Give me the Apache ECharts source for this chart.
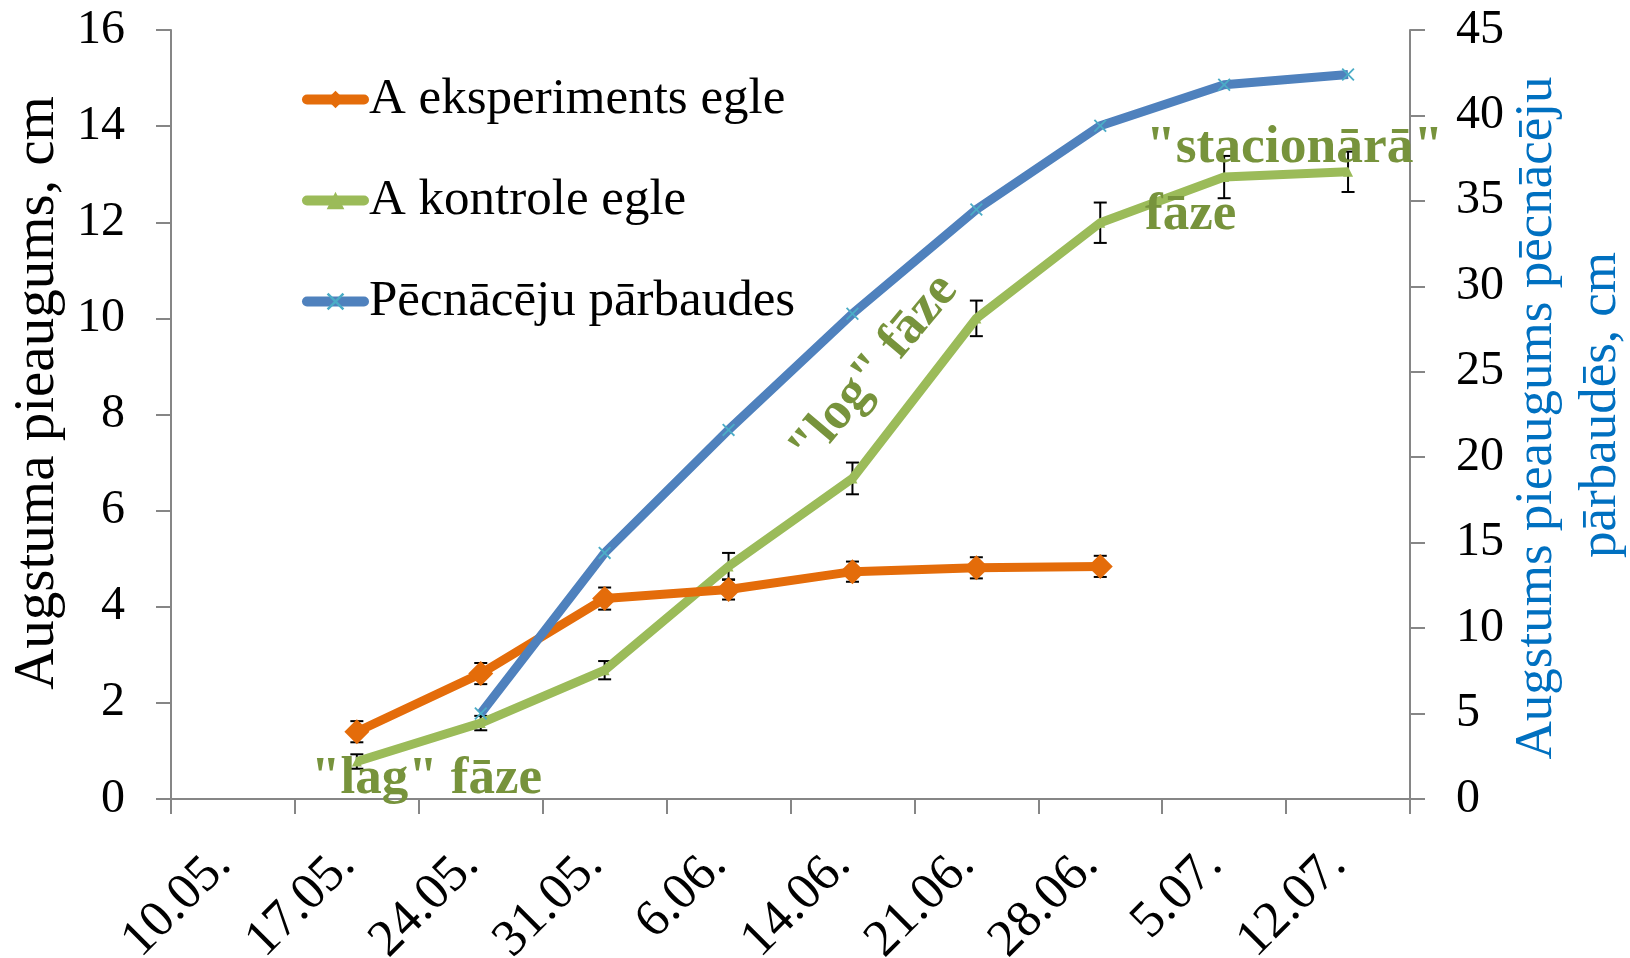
<!DOCTYPE html>
<html>
<head>
<meta charset="utf-8">
<script src="https://cdn.jsdelivr.net/npm/echarts@6/dist/echarts.min.js"></script>
<style>
  html, body { margin: 0; padding: 0; background: #fff; }
  #chart { width: 1630px; height: 958px; }
</style>
</head>
<body>
<div id="chart"></div>
<script>
// Sampling dates
const dates = ['10.05.', '17.05.', '24.05.', '31.05.', '6.06.', '14.06.', '21.06.', '28.06.', '5.07.', '12.07.'];

// Height increment, cm (left axis)
const experimentSpruce = [null, 1.40, 2.61, 4.17, 4.36, 4.73, 4.81, 4.84, null, null];
const experimentErr    = [null, 0.22, 0.22, 0.23, 0.21, 0.21, 0.22, 0.22, null, null];
const controlSpruce    = [null, 0.78, 1.58, 2.68, 4.84, 6.67, 10.00, 11.99, 12.94, 13.05];
const controlErr       = [null, 0.15, 0.15, 0.19, 0.28, 0.33, 0.37, 0.42, 0.44, 0.42];

// Progeny trial height increment, cm (right axis)
const progenyTrials = [null, null, 5.0, 14.4, 21.6, 28.4, 34.5, 39.4, 41.8, 42.4];

const seriesNames = ['A eksperiments egle', 'A kontrole egle', 'Pēcnācēju pārbaudes'];
const leftTitle = 'Augstuma pieaugums, cm';
const rightTitle = ['Augstums pieaugums pēcnācēju', 'pārbaudēs, cm'];
const phaseLabels = ['"lag" fāze', '"log" fāze', '"stacionārā"', 'fāze'];

const FONT = '"Liberation Serif", "Times New Roman", serif';
const AXIS_GREY = '#868686';
const ORANGE = '#E46C0A';
const GREEN = '#9BBB59';
const BLUE = '#4F81BD';
const PHASE_GREEN = '#77933C';
const TITLE_BLUE = '#0070C0';

const crossSymbol = 'path://M0,1L1,0L5,4L9,0L10,1L6,5L10,9L9,10L5,6L1,10L0,9L4,5Z';

// Vertical error bars with caps, drawn under the lines
function errorBars(values, errs, yAxisIndex) {
  const data = [];
  values.forEach((v, i) => { if (v != null) data.push([i, v, errs[i]]); });
  return {
    type: 'custom',
    yAxisIndex: yAxisIndex,
    silent: true,
    z: 1,
    encode: { x: 0, y: 1 },
    data: data,
    renderItem: function (params, api) {
      const i = api.value(0), v = api.value(1), e = api.value(2);
      const hi = api.coord([i, v + e]);
      const lo = api.coord([i, v - e]);
      const hw = 6.5;
      const st = { stroke: '#000', lineWidth: 2 };
      return {
        type: 'group',
        children: [
          { type: 'line', shape: { x1: hi[0], y1: hi[1], x2: lo[0], y2: lo[1] }, style: st },
          { type: 'line', shape: { x1: hi[0] - hw, y1: hi[1], x2: hi[0] + hw, y2: hi[1] }, style: st },
          { type: 'line', shape: { x1: lo[0] - hw, y1: lo[1], x2: lo[0] + hw, y2: lo[1] }, style: st }
        ]
      };
    }
  };
}

const chart = echarts.init(document.getElementById('chart'), null, { renderer: 'canvas' });

function phaseStyle(text, size, extra) {
  return Object.assign({ text: text, fill: PHASE_GREEN, fontFamily: FONT, fontWeight: 'bold', fontSize: size }, extra || {});
}

chart.setOption({
  animation: false,
  backgroundColor: '#ffffff',
  textStyle: { fontFamily: FONT },
  grid: { left: 171, right: 220, top: 30, bottom: 159, containLabel: false, outerBoundsMode: 'none' },
  legend: {
    data: seriesNames,
    orient: 'vertical',
    left: 297,
    top: 69,
    itemWidth: 57,
    itemHeight: 22,
    itemGap: 50,
    lineStyle: { width: 10, cap: 'round' },
    textStyle: { fontFamily: FONT, fontSize: 51, color: '#000', lineHeight: 50 }
  },
  xAxis: {
    type: 'category',
    data: dates,
    boundaryGap: true,
    axisLine: { show: true, lineStyle: { color: AXIS_GREY, width: 2 } },
    axisTick: { show: true, inside: false, length: 15, alignWithLabel: false, lineStyle: { color: AXIS_GREY, width: 2 } },
    axisLabel: { rotate: 45, margin: 48, padding: [0, 14, 0, 0], fontSize: 52, color: '#000', fontFamily: FONT, interval: 0 },
    splitLine: { show: false }
  },
  yAxis: [
    {
      type: 'value',
      min: 0, max: 16, interval: 2,
      axisLine: { show: true, lineStyle: { color: AXIS_GREY, width: 2 } },
      axisTick: { show: true, inside: false, length: 15, lineStyle: { color: AXIS_GREY, width: 2 } },
      axisLabel: { margin: 46, fontSize: 48, color: '#000', fontFamily: FONT },
      splitLine: { show: false }
    },
    {
      type: 'value',
      position: 'right',
      min: 0, max: 45, interval: 5,
      axisLine: { show: true, lineStyle: { color: AXIS_GREY, width: 2 } },
      axisTick: { show: true, inside: false, length: 15, lineStyle: { color: AXIS_GREY, width: 2 } },
      axisLabel: { margin: 46, fontSize: 48, color: '#000', fontFamily: FONT },
      splitLine: { show: false }
    }
  ],
  series: [
    errorBars(experimentSpruce, experimentErr, 0),
    errorBars(controlSpruce, controlErr, 0),
    {
      name: seriesNames[0],
      type: 'line',
      yAxisIndex: 0,
      data: experimentSpruce,
      z: 3,
      symbol: 'diamond',
      symbolSize: 25,
      showAllSymbol: true,
      lineStyle: { color: ORANGE, width: 9 },
      itemStyle: { color: ORANGE }
    },
    {
      name: seriesNames[1],
      type: 'line',
      yAxisIndex: 0,
      data: controlSpruce,
      z: 2,
      symbol: 'triangle',
      symbolSize: 10,
      showAllSymbol: true,
      lineStyle: { color: GREEN, width: 9 },
      itemStyle: { color: GREEN }
    },
    {
      name: seriesNames[2],
      type: 'line',
      yAxisIndex: 1,
      data: progenyTrials,
      z: 4,
      symbol: crossSymbol,
      symbolSize: 13,
      showAllSymbol: true,
      lineStyle: { color: BLUE, width: 9 },
      itemStyle: { color: '#4BACC6' }
    }
  ],
  graphic: [
    // axis titles
    { type: 'text', x: 38, y: 393, rotation: Math.PI / 2, z: 10,
      style: { text: leftTitle, fill: '#000', fontFamily: FONT, fontSize: 57, align: 'center', verticalAlign: 'middle' } },
    { type: 'text', x: 1537, y: 418, rotation: Math.PI / 2, z: 10,
      style: { text: rightTitle[0], fill: TITLE_BLUE, fontFamily: FONT, fontSize: 53, align: 'center', verticalAlign: 'middle' } },
    { type: 'text', x: 1601, y: 405, rotation: Math.PI / 2, z: 10,
      style: { text: rightTitle[1], fill: TITLE_BLUE, fontFamily: FONT, fontSize: 53, align: 'center', verticalAlign: 'middle' } },
    // growth phase annotations
    { type: 'text', left: 311, top: 753, z: 10, style: phaseStyle(phaseLabels[0], 53) },
    { type: 'text', x: 874, y: 370, rotation: 50 * Math.PI / 180, z: 10,
      style: phaseStyle(phaseLabels[1], 53, { align: 'center', verticalAlign: 'middle' }) },
    { type: 'text', left: 1146, top: 121, z: 10, style: phaseStyle(phaseLabels[2], 53.5) },
    { type: 'text', left: 1145, top: 189, z: 10, style: phaseStyle(phaseLabels[3], 53) }
  ]
});
</script>
</body>
</html>
